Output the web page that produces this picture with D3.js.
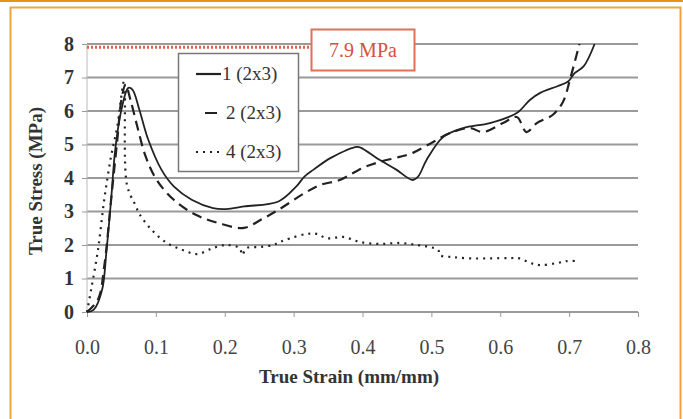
<!DOCTYPE html>
<html>
<head>
<meta charset="utf-8">
<script src="https://cdn.jsdelivr.net/npm/d3@7.9.0/dist/d3.min.js"></script>
<style>
  body { margin: 0; background: #fff; }
  svg { display: block; }
  svg text { font-family: "Liberation Serif", "DejaVu Serif", serif; }
</style>
</head>
<body>
<svg id="chart" width="683" height="419"></svg>
<script>
// data: [strain, stress]
const series1 = [[0,0],[0.01,0.07],[0.022,0.67],[0.028,1.76],[0.035,3.35],[0.041,4.85],[0.05,6.04],
  [0.06,6.69],[0.066,6.64],[0.076,6.04],[0.089,5.14],[0.108,4.25],[0.126,3.75],[0.152,3.35],[0.183,3.1],
  [0.202,3.07],[0.228,3.15],[0.278,3.3],[0.304,3.75],[0.316,4.05],[0.329,4.25],[0.354,4.6],[0.392,4.93],
  [0.398,4.9],[0.424,4.55],[0.449,4.25],[0.473,3.94],[0.481,4.05],[0.493,4.54],[0.517,5.22],[0.546,5.49],
  [0.585,5.64],[0.624,5.94],[0.643,6.33],[0.658,6.54],[0.683,6.74],[0.699,6.89],[0.708,7.13],[0.721,7.33],[0.737,8.0]];
const series2 = [[0,0],[0.016,0.37],[0.025,1.36],[0.035,3.35],[0.044,5.14],[0.05,6.34],[0.056,6.79],
  [0.063,6.34],[0.073,5.54],[0.085,4.65],[0.101,3.95],[0.126,3.35],[0.158,2.9],[0.19,2.66],[0.228,2.51],
  [0.253,2.76],[0.278,3.05],[0.316,3.55],[0.34,3.8],[0.367,3.94],[0.4,4.3],[0.425,4.48],[0.454,4.63],
  [0.473,4.75],[0.502,5.07],[0.527,5.34],[0.556,5.49],[0.575,5.37],[0.604,5.64],[0.624,5.82],[0.638,5.37],
  [0.653,5.64],[0.676,5.88],[0.691,6.27],[0.702,7.0],[0.715,8.0]];
const series4 = [[0,0],[0.006,0.67],[0.016,1.86],[0.025,3.35],[0.035,4.65],[0.044,5.54],[0.054,6.9],
  [0.058,3.8],[0.07,3.2],[0.077,2.9],[0.094,2.45],[0.116,2.06],[0.139,1.85],[0.16,1.73],[0.183,1.91],
  [0.203,2.0],[0.222,1.9],[0.225,1.7],[0.232,1.91],[0.251,1.94],[0.27,2.0],[0.28,2.09],[0.295,2.2],
  [0.319,2.33],[0.334,2.33],[0.348,2.2],[0.372,2.24],[0.396,2.09],[0.425,2.03],[0.454,2.06],[0.479,2.0],
  [0.498,1.94],[0.51,1.85],[0.512,1.7],[0.531,1.64],[0.556,1.6],[0.585,1.6],[0.614,1.61],[0.628,1.6],
  [0.643,1.47],[0.657,1.4],[0.682,1.46],[0.697,1.52],[0.711,1.52]];
const legendLabels = ["1 (2x3)", "2 (2x3)", "4 (2x3)"];
const xTicks = [0, 0.1, 0.2, 0.3, 0.4, 0.5, 0.6, 0.7, 0.8];
const yTicks = [0, 1, 2, 3, 4, 5, 6, 7, 8];
const limitValue = 7.9;

const FONT = "'Liberation Serif', 'DejaVu Serif', serif";
const svg = d3.select("#chart");

// orange page frame
svg.append("rect").attr("x", 0).attr("y", 0).attr("width", 683).attr("height", 2).attr("fill", "#e8921c");
svg.append("path").attr("d", "M10.5,419 V7.5 H680.5 V419")
  .attr("fill", "none").attr("stroke", "#f0a440").attr("stroke-width", 2);

const x = d3.scaleLinear().domain([0, 0.8]).range([87, 638]);
const y = d3.scaleLinear().domain([0, 8]).range([312, 44]);

// gridlines
svg.append("g").selectAll("line").data(yTicks).enter().append("line")
  .attr("x1", x(0)).attr("x2", x(0.8))
  .attr("y1", d => y(d)).attr("y2", d => y(d))
  .attr("stroke", "#9a9a9a").attr("stroke-width", 2);
svg.append("line").attr("x1", x(0)).attr("x2", x(0)).attr("y1", y(8)).attr("y2", y(0))
  .attr("stroke", "#bbb").attr("stroke-width", 1);

// axes
const xAxis = svg.append("g").attr("transform", `translate(0,${y(0)})`)
  .call(d3.axisBottom(x).tickValues(xTicks).tickFormat(d3.format(".1f")).tickSize(5).tickPadding(23));
const yAxis = svg.append("g").attr("transform", `translate(${x(0)},0)`)
  .call(d3.axisLeft(y).tickValues(yTicks).tickSize(5).tickPadding(8));
[xAxis, yAxis].forEach(a => {
  a.attr("font-family", FONT);
  a.select(".domain").remove();
  a.selectAll(".tick line").attr("stroke", "#999");
  a.selectAll("text").attr("fill", "#333");
});
xAxis.selectAll("text").attr("font-size", 20).attr("fill", "#444");
yAxis.selectAll("text").attr("font-size", 20).attr("font-weight", "bold");

// axis titles
svg.append("text").attr("x", 349).attr("y", 383).attr("text-anchor", "middle").attr("font-family", FONT)
  .attr("font-size", 19).attr("font-weight", "bold").attr("fill", "#333").text("True Strain (mm/mm)");
svg.append("text").attr("transform", "translate(42,181) rotate(-90)").attr("text-anchor", "middle")
  .attr("font-family", FONT)
  .attr("font-size", 19).attr("font-weight", "bold").attr("fill", "#333").text("True Stress (MPa)");

// limit line and label
svg.append("line").attr("x1", x(0)).attr("x2", 311).attr("y1", y(limitValue)).attr("y2", y(limitValue))
  .attr("stroke", "#e8603e").attr("stroke-width", 3).attr("stroke-dasharray", "2,2");
svg.append("rect").attr("x", 311.5).attr("y", 29.5).attr("width", 103).attr("height", 41)
  .attr("fill", "#fff").attr("stroke", "#e0705a").attr("stroke-width", 2);
svg.append("text").attr("x", 363).attr("y", 57).attr("text-anchor", "middle").attr("font-family", FONT)
  .attr("font-size", 20).attr("fill", "#d8503a").text(limitValue + " MPa");

// curves
const styles = [
  { data: series1, dash: null, width: 1.8 },
  { data: series2, dash: "10,6", width: 2.2 },
  { data: series4, dash: "2,5", width: 2.2 }
];
svg.append("g").selectAll("path").data(styles).enter().append("path")
  .attr("d", d => d3.line().x(p => x(p[0])).y(p => y(p[1])).curve(d3.curveCatmullRom.alpha(0.5))(d.data))
  .attr("fill", "none").attr("stroke", "#222")
  .attr("stroke-width", d => d.width)
  .attr("stroke-dasharray", d => d.dash);

// legend
const lg = svg.append("g");
lg.append("rect").attr("x", 178.5).attr("y", 53.5).attr("width", 120).attr("height", 118)
  .attr("fill", "#fff").attr("stroke", "#777").attr("stroke-width", 1.5);
legendLabels.forEach((lab, i) => {
  const yy = 74 + i * 39;
  lg.append("line").attr("x1", 196).attr("x2", 221).attr("y1", yy).attr("y2", yy)
    .attr("stroke", "#222").attr("stroke-width", 2.2)
    .attr("stroke-dasharray", styles[i].dash ? (i === 1 ? "0,9,12,8" : "2,5") : null);
  lg.append("text").attr("x", i === 0 ? 222 : 226).attr("y", yy + 6).attr("font-family", FONT)
    .attr("font-size", 19).attr("fill", "#333").text(lab);
});
</script>
</body>
</html>
